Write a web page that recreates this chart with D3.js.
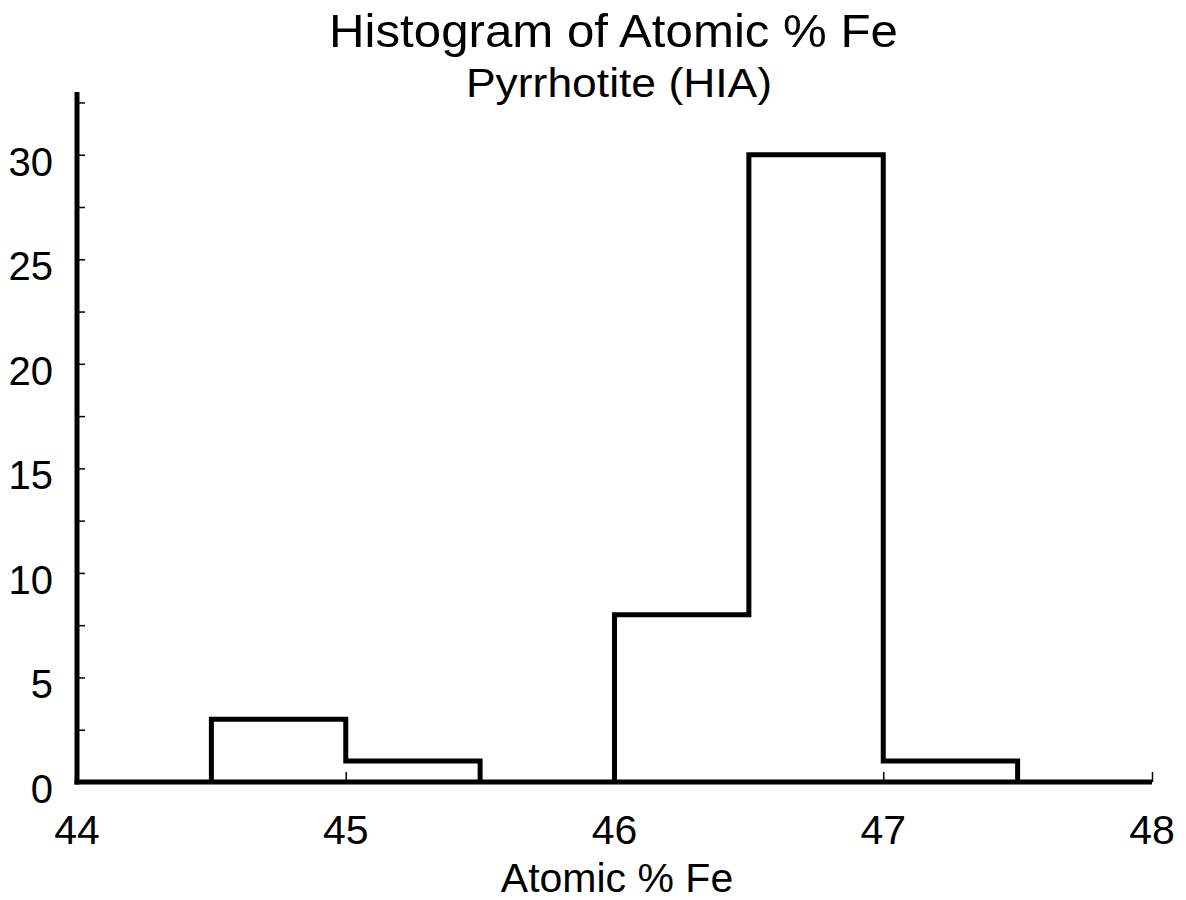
<!DOCTYPE html>
<html>
<head>
<meta charset="utf-8">
<script src="https://cdn.jsdelivr.net/npm/d3@7"></script>
<style>
  html, body { margin: 0; padding: 0; background: #fff; }
  svg { display: block; font-family: "Liberation Sans", Arial, Helvetica, sans-serif; }
</style>
</head>
<body>
<svg id="chart" width="1186" height="900"></svg>
<script>
// ---- data ----
const binStarts = [44.5, 45.0, 45.5, 46.0, 46.5, 47.0];
const binWidth = 0.5;
const counts = [3, 1, 0, 8, 30, 1];
const xTicks = [44, 45, 46, 47, 48];
const yTicks = [0, 5, 10, 15, 20, 25, 30];
const yMinorTicks = [2.5, 7.5, 12.5, 17.5, 22.5, 27.5, 32.5];
const titleText = "Histogram of Atomic % Fe";
const subtitleText = "Pyrrhotite (HIA)";
const xLabel = "Atomic % Fe";

// ---- layout ----
const svg = d3.select("#chart");
const x = d3.scaleLinear().domain([44, 48]).range([77, 1152]);
const y = d3.scaleLinear().domain([0, 33]).range([782, 92]);

// ---- histogram outline (step path) ----
const pts = [];
let prev = 0;
binStarts.forEach((b, i) => {
  const c = counts[i];
  pts.push([b, prev]);
  pts.push([b, c]);
  prev = c;
});
const last = binStarts[binStarts.length - 1] + binWidth;
pts.push([last, prev]);
pts.push([last, 0]);

const segs = [];
let cur = [];
for (let i = 0; i < pts.length; i++) {
  const p = pts[i];
  cur.push(p);
  if (i > 0 && p[1] === 0 && pts[i - 1][1] === 0 && cur.length > 1) {
    if (cur.length > 2) segs.push(cur.slice(0, -1));
    cur = [p];
  }
}
if (cur.length > 1) segs.push(cur);

const line = d3.line().x(d => x(d[0])).y(d => y(d[1]));
svg.append("g").selectAll("path").data(segs).join("path")
  .attr("d", line)
  .attr("fill", "none")
  .attr("stroke", "#000")
  .attr("stroke-width", 5)
  .attr("stroke-linejoin", "miter");

// ---- axes ----
const yAxis = d3.axisRight(y).tickValues(yMinorTicks.concat(yTicks)).tickSize(8).tickFormat("");
const gy = svg.append("g").attr("transform", `translate(${x(44)},0)`).call(yAxis);
gy.select(".domain").remove();
gy.selectAll(".tick line").attr("stroke", "#000").attr("stroke-width", 1.5);

const xAxis = d3.axisTop(x).tickValues(xTicks).tickSize(10).tickFormat("");
const gx = svg.append("g").attr("transform", `translate(0,${y(0)})`).call(xAxis);
gx.select(".domain").remove();
gx.selectAll(".tick line").attr("stroke", "#000").attr("stroke-width", 1.5);

svg.append("line")
  .attr("x1", x(44)).attr("x2", x(44))
  .attr("y1", y(33)).attr("y2", y(0) + 2.5)
  .attr("stroke", "#000").attr("stroke-width", 5);
svg.append("line")
  .attr("x1", x(44) - 2.5).attr("x2", x(48))
  .attr("y1", y(0)).attr("y2", y(0))
  .attr("stroke", "#000").attr("stroke-width", 5);

// tick labels
svg.append("g").selectAll("text").data(xTicks).join("text")
  .attr("x", d => x(d))
  .attr("y", y(0) + 62)
  .attr("text-anchor", "middle")
  .attr("font-size", 41)
  .attr("fill", "#000")
  .text(d => d);

svg.append("g").selectAll("text").data(yTicks).join("text")
  .attr("x", x(44) - 24)
  .attr("y", d => y(d) + 21)
  .attr("text-anchor", "end")
  .attr("font-size", 40)
  .attr("fill", "#000")
  .text(d => d);

// titles
svg.append("text")
  .attr("x", 613.5).attr("y", 47)
  .attr("text-anchor", "middle")
  .attr("font-size", 47)
  .attr("textLength", 569)
  .attr("lengthAdjust", "spacingAndGlyphs")
  .attr("fill", "#000")
  .text(titleText);
svg.append("text")
  .attr("x", 619).attr("y", 97)
  .attr("text-anchor", "middle")
  .attr("font-size", 40)
  .attr("textLength", 306)
  .attr("lengthAdjust", "spacingAndGlyphs")
  .attr("fill", "#000")
  .text(subtitleText);
svg.append("text")
  .attr("x", 617).attr("y", 892)
  .attr("text-anchor", "middle")
  .attr("font-size", 41)
  .attr("fill", "#000")
  .text(xLabel);
</script>
</body>
</html>
